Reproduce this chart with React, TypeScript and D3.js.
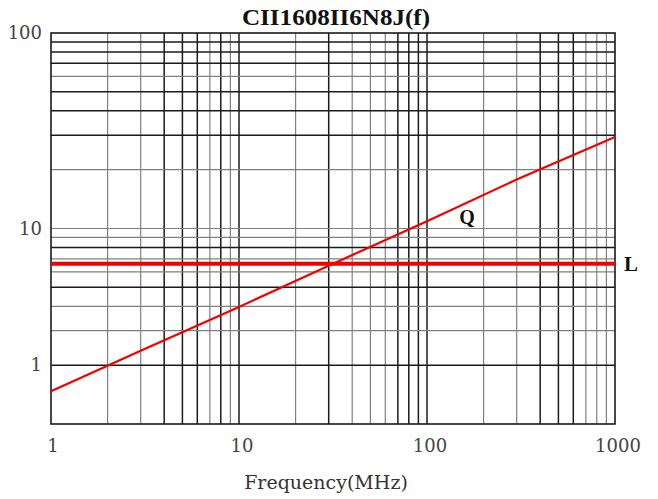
import React from "react";
import * as d3 from "d3";

const title = "CII1608II6N8J(f)";
const xLabel = "Frequency(MHz)";

const freqQ = [1, 3, 10, 30, 100, 300, 1000];
const valuesQ = [1.47, 2.37, 3.97, 6.45, 10.9, 17.8, 29.4];
const freqL = [1, 1000];
const valuesL = [6.6, 6.6];

const xGrid = [2, 3, 4, 5, 6, 7, 8, 9, 10, 20, 30, 40, 50, 60, 70, 80, 90, 100, 200, 300, 400, 500, 600, 700, 800, 900];
const xGridDark = [4, 5, 6, 8, 10, 30, 70, 80, 90, 100, 400, 500, 600];
const yGrid = [2, 3, 4, 5, 6, 7, 8, 9, 10, 20, 30, 40, 50, 60, 70, 80, 90];
const yGridDark = [2, 5, 8, 30, 40, 50, 70, 80, 90];

const xTicks = [1, 10, 100, 1000];
const xTickLabels = ["1", "10", "100", "1000"];
const yTickAt = [100, 10, 2];
const yTickLabels = ["100", "10", "1"];

export default function App() {
  const W = 658, H = 499;
  const left = 51, right = 615, top = 33, bottom = 424;
  const x = d3.scaleLog().domain([1, 1000]).range([left, right]);
  const y = d3.scaleLog().domain([1, 100]).range([bottom, top]);
  const line = d3.line<[number, number]>().x(d => x(d[0])).y(d => y(d[1]));
  const qPts = freqQ.map((f, i) => [f, valuesQ[i]] as [number, number]);
  const lPts = freqL.map((f, i) => [f, valuesL[i]] as [number, number]);
  const tickFont = "'DejaVu Serif', serif";
  return (
    <svg width={W} height={H} style={{ position: "absolute", left: 0, top: 0, background: "#fff" }}>
      <rect x={0} y={0} width={W} height={H} fill="#fff" />
      {xGrid.map(v => {
        const dark = xGridDark.includes(v);
        return (
          <line key={"xg" + v} x1={x(v)} x2={x(v)} y1={top} y2={bottom}
            stroke={dark ? "#1a1a1a" : "#808080"} strokeWidth={dark ? 1.5 : 1.2} />
        );
      })}
      {yGrid.map(v => {
        const dark = yGridDark.includes(v);
        return (
          <line key={"yg" + v} y1={y(v)} y2={y(v)} x1={left} x2={right}
            stroke={dark ? "#1a1a1a" : "#808080"} strokeWidth={dark ? 1.5 : 1.2} />
        );
      })}
      <rect x={left} y={top} width={right - left} height={bottom - top} fill="none" stroke="#1a1a1a" strokeWidth={1.6} />
      <path d={line(lPts) || ""} fill="none" stroke="#f20000" strokeWidth={4} />
      <path d={line(qPts) || ""} fill="none" stroke="#f20000" strokeWidth={2.2} />
      <text x={336} y={25} textAnchor="middle" fontFamily="'Liberation Serif', serif" fontWeight="bold" fontSize={24} textLength={188} lengthAdjust="spacingAndGlyphs" fill="#111">{title}</text>
      {xTicks.map((v, i) => (
        <text key={"xt" + v} x={x(v) + (i === 0 ? 2 : 3)} y={452} textAnchor="middle" fontFamily={tickFont} fontSize={18} fill="#444">{xTickLabels[i]}</text>
      ))}
      {yTickAt.map((v, i) => (
        <text key={"yt" + v} x={42} y={y(v) + 6} textAnchor="end" fontFamily={tickFont} fontSize={18} fill="#444">{yTickLabels[i]}</text>
      ))}
      <text x={326} y={489} textAnchor="middle" fontFamily={tickFont} fontSize={19} fill="#333">{xLabel}</text>
      <text x={467} y={224} textAnchor="middle" fontFamily="'Liberation Serif', serif" fontWeight="bold" fontSize={20} fill="#111">Q</text>
      <text x={631} y={271} textAnchor="middle" fontFamily="'Liberation Serif', serif" fontWeight="bold" fontSize={21} fill="#111">L</text>
    </svg>
  );
}
